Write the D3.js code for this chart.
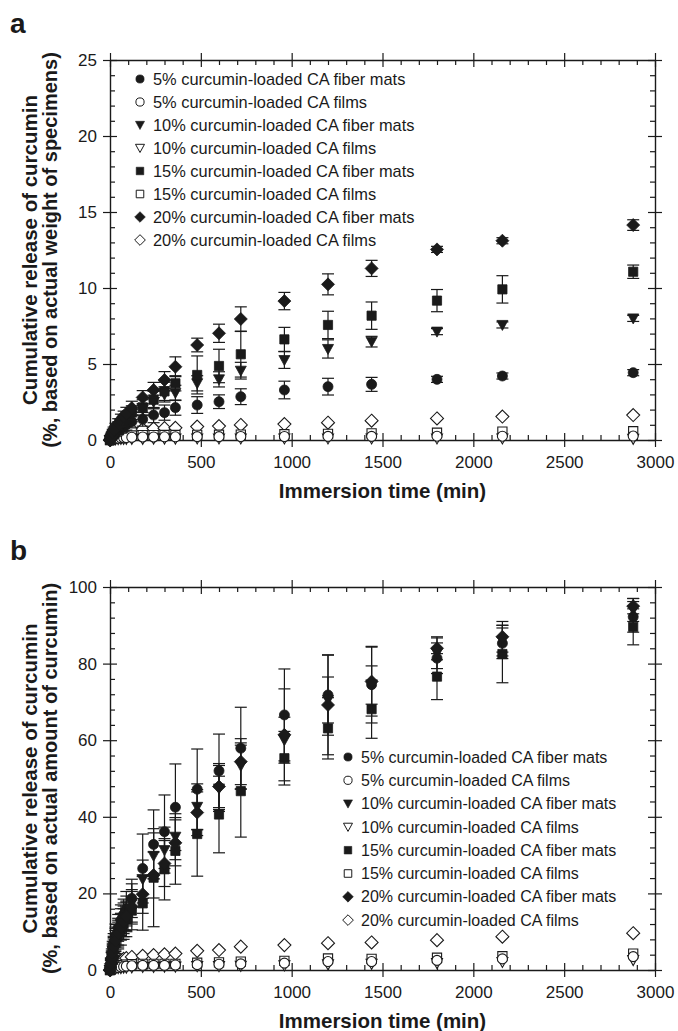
<!DOCTYPE html>
<html><head><meta charset="utf-8">
<script src="https://cdn.jsdelivr.net/npm/d3@7"></script>
<style>
body{margin:0;background:#fff;}
text{font-family:"Liberation Sans",Arial,Helvetica,sans-serif;fill:#1a1a1a;}
</style></head>
<body><svg id="chart" width="678" height="1031"></svg>
<script>
const times = [0,5,10,15,20,30,45,60,75,90,120,180,240,300,360,480,600,720,960,1200,1440,1800,2160,2880];
const seriesNames = ["5% curcumin-loaded CA fiber mats","5% curcumin-loaded CA films","10% curcumin-loaded CA fiber mats","10% curcumin-loaded CA films","15% curcumin-loaded CA fiber mats","15% curcumin-loaded CA films","20% curcumin-loaded CA fiber mats","20% curcumin-loaded CA films"];
const xTicks = [0,500,1000,1500,2000,2500,3000];
const aYTicks = [0,5,10,15,20,25];
const bYTicks = [0,20,40,60,80,100];

// Panel a (% based on actual weight of specimens)
const aFiber5  = [0,0.1,0.2,0.28,0.35,0.45,0.6,0.75,0.88,1.0,1.2,1.36,1.64,1.8,2.13,2.30,2.52,2.85,3.29,3.51,3.66,3.99,4.21,4.43];
const aFiber5Err=[0,0.1,0.15,0.15,0.2,0.2,0.25,0.3,0.3,0.35,0.4,0.45,0.5,0.5,0.5,0.55,0.45,0.52,0.58,0.55,0.46,0.2,0.2,0.2];
const aFilm5   = [0,0.03,0.05,0.07,0.08,0.1,0.12,0.14,0.15,0.16,0.18,0.2,0.2,0.21,0.21,0.22,0.22,0.23,0.23,0.24,0.24,0.25,0.25,0.26];
const aFiber10 = [0,0.12,0.25,0.35,0.45,0.6,0.8,1.0,1.15,1.3,1.6,2.0,2.5,3.0,3.1,3.73,3.99,4.56,5.26,5.99,6.47,7.13,7.57,8.0];
const aFiber10Err=[0,0.1,0.15,0.15,0.2,0.2,0.25,0.3,0.3,0.35,0.4,0.4,0.45,0.5,0.5,0.5,0.5,0.55,0.55,0.6,0.35,0.2,0.2,0.2];
const aFilm10  = [0,0.02,0.03,0.04,0.05,0.05,0.06,0.07,0.07,0.08,0.08,0.08,0.09,0.09,0.09,0.1,0.1,0.1,0.1,0.1,0.1,0.1,0.1,0.08];
const aFiber15 = [0,0.15,0.3,0.4,0.5,0.7,0.9,1.1,1.3,1.45,1.8,2.15,2.65,3.2,3.73,4.28,4.87,5.64,6.62,7.57,8.18,9.17,9.91,11.07];
const aFiber15Err=[0,0.1,0.15,0.2,0.2,0.25,0.3,0.3,0.35,0.4,0.45,0.5,0.55,0.6,0.5,1.25,1.1,1.5,0.79,0.9,0.9,0.73,0.9,0.44];
const aFilm15  = [0,0.05,0.08,0.1,0.12,0.15,0.18,0.22,0.25,0.27,0.3,0.32,0.32,0.33,0.33,0.34,0.35,0.36,0.38,0.4,0.44,0.48,0.55,0.58];
const aFiber20 = [0,0.2,0.35,0.5,0.65,0.85,1.1,1.35,1.55,1.75,2.1,2.8,3.29,3.95,4.82,6.25,7.02,7.96,9.14,10.24,11.29,12.54,13.11,14.14];
const aFiber20Err=[0,0.1,0.15,0.2,0.2,0.25,0.3,0.35,0.35,0.4,0.45,0.45,0.5,0.55,0.65,0.45,0.6,0.8,0.57,0.69,0.53,0.2,0.2,0.35];
const aFilm20  = [0,0.1,0.15,0.2,0.25,0.3,0.4,0.48,0.55,0.6,0.68,0.72,0.75,0.78,0.8,0.88,0.92,0.99,1.05,1.14,1.27,1.42,1.54,1.64];

// Panel b (% based on actual amount of curcumin)
const bFiber5  = [0,2,4,5.5,7,9,11,13,14.5,16,18.7,26.5,32.8,36.1,42.5,47.2,52.0,57.9,66.6,71.8,74.5,81.4,85.3,92.2];
const bFiber5Err=[0,1,1.5,2,2.5,3,3.5,4,4,4.5,5,9,9,9.6,11.3,10.5,9.6,10.7,12,10.5,10,4,4,4];
const bFilm5   = [0,0.2,0.3,0.4,0.5,0.6,0.7,0.8,0.9,1.0,1.1,1.2,1.2,1.2,1.3,1.4,1.5,1.6,1.8,2.2,2.2,2.5,2.9,3.5];
const bFiber10 = [0,1.8,3.5,5,6.3,8.2,10,12,13.5,14.8,17.5,23.7,29.8,31.3,34.8,42.6,47.4,53.3,60,70.5,74.4,82.7,86,94];
const bFiber10Err=[0,1,1.5,2,2.5,3,3.5,4,4,4.5,5,5,6,6,6,6,6,6,6,6,5,4,4,3];
const bFilm10  = [0,0.1,0.2,0.3,0.3,0.4,0.5,0.5,0.6,0.6,0.7,0.8,0.8,0.9,0.9,1.0,1.0,1.1,1.2,1.5,1.6,1.8,2.1,2.6];
const bFiber15 = [0,1.5,3,4.3,5.6,7.3,9,10.5,12,13.2,15.5,17.4,24.1,26.3,31.1,35.5,40.6,46.7,55.3,63.1,68.1,76.6,82.5,89.6];
const bFiber15Err=[0,1,1.5,2,2.5,3,3.5,4,4,4.5,5,7,12.8,8,8.7,11,10,12,7,8,7.6,6,7.5,4.7];
const bFilm15  = [0,0.2,0.4,0.6,0.7,0.9,1.1,1.2,1.3,1.4,1.5,1.6,1.6,1.6,1.6,1.9,2.0,2.2,2.4,3.0,2.9,3.2,3.6,4.3];
const bFiber20 = [0,1.6,3.2,4.6,6,7.8,9.5,11.3,12.7,14,16.5,19.8,24.8,27.8,33.2,41.1,47.9,54.4,61.4,69.2,75.3,84.0,87.0,95.0];
const bFiber20Err=[0,1,1.5,2,2.5,3,3.5,3.5,4,4,4.5,5,6,6,6,6,6,6,12,13,9,3,4,2];
const bFilm20  = [0,0.5,0.8,1.1,1.4,1.8,2.2,2.6,2.9,3.1,3.4,3.7,3.9,4.1,4.3,5.0,5.2,6.1,6.5,7.0,7.2,7.8,8.7,9.6];

const ink = "#1a1a1a";
const svg = d3.select("#chart");

// marker shapes: 0 circle,1 triangle down,2 square,3 diamond
function shapePath(kind, s){
  const p = d3.path();
  if(kind===0){ p.arc(0,0,5*s,0,2*Math.PI); }
  else if(kind===1){ p.moveTo(-5.5*s,-4.5*s); p.lineTo(5.5*s,-4.5*s); p.lineTo(0,5.5*s); p.closePath(); }
  else if(kind===2){ p.rect(-4.6*s,-4.6*s,9.2*s,9.2*s); }
  else { p.moveTo(0,-6.5*s); p.lineTo(6.5*s,0); p.lineTo(0,6.5*s); p.lineTo(-6.5*s,0); p.closePath(); }
  return p.toString();
}

function drawPanel(cfg){
  const g = svg.append("g");
  const x = d3.scaleLinear().domain([0,3000]).range([cfg.left,cfg.right]);
  const y = d3.scaleLinear().domain([0,cfg.ymax]).range([cfg.bottom,cfg.top]);
  const xMinor = d3.range(0,3001,100).filter(v=>v%500!==0);
  const yMinor = d3.range(0,cfg.ymax+0.001,cfg.yMinorStep).filter(v=>Math.abs(v/cfg.yMajorStep-Math.round(v/cfg.yMajorStep))>1e-6);

  const axes = g.append("g").attr("class","axes");
  function styleAxis(sel){
    sel.selectAll("path.domain").attr("stroke",ink).attr("stroke-width",1.4);
    sel.selectAll("line").attr("stroke",ink).attr("stroke-width",1.2);
  }
  const bAx = axes.append("g").attr("transform",`translate(0,${cfg.bottom})`)
    .call(d3.axisBottom(x).tickValues(xTicks).tickSize(7).tickPadding(9).tickSizeOuter(0).tickFormat(d3.format("d")));
  bAx.selectAll(".tick line").attr("y1",-7);
  bAx.selectAll("text").attr("font-size",17).style("fill",ink);
  styleAxis(bAx);
  const bMin = axes.append("g").attr("transform",`translate(0,${cfg.bottom})`)
    .call(d3.axisTop(x).tickValues(xMinor).tickSize(5).tickFormat("").tickSizeOuter(0));
  bMin.select(".domain").remove(); styleAxis(bMin);
  const tAx = axes.append("g").attr("transform",`translate(0,${cfg.top})`)
    .call(d3.axisTop(x).tickValues(xTicks).tickSize(7).tickFormat("").tickSizeOuter(0));
  tAx.selectAll(".tick line").attr("y1",7);
  styleAxis(tAx);
  const tMin = axes.append("g").attr("transform",`translate(0,${cfg.top})`)
    .call(d3.axisBottom(x).tickValues(xMinor).tickSize(5).tickFormat("").tickSizeOuter(0));
  tMin.select(".domain").remove(); styleAxis(tMin);
  const lAx = axes.append("g").attr("transform",`translate(${cfg.left},0)`)
    .call(d3.axisLeft(y).tickValues(cfg.yTicks).tickSize(7).tickPadding(6).tickSizeOuter(0).tickFormat(d3.format("d")));
  lAx.selectAll(".tick line").attr("x1",7);
  lAx.selectAll("text").attr("font-size",17).style("fill",ink);
  styleAxis(lAx);
  const lMin = axes.append("g").attr("transform",`translate(${cfg.left},0)`)
    .call(d3.axisRight(y).tickValues(yMinor).tickSize(5).tickFormat("").tickSizeOuter(0));
  lMin.select(".domain").remove(); styleAxis(lMin);
  const rAx = axes.append("g").attr("transform",`translate(${cfg.right},0)`)
    .call(d3.axisRight(y).tickValues(cfg.yTicks).tickSize(7).tickFormat("").tickSizeOuter(0));
  rAx.selectAll(".tick line").attr("x1",-7);
  styleAxis(rAx);
  const rMin = axes.append("g").attr("transform",`translate(${cfg.right},0)`)
    .call(d3.axisLeft(y).tickValues(yMinor).tickSize(5).tickFormat("").tickSizeOuter(0));
  rMin.select(".domain").remove(); styleAxis(rMin);

  const order = [7,5,3,1,0,2,4,6];
  const kinds = [0,0,1,1,2,2,3,3];
  const marks = g.append("g");
  order.forEach(i=>{
    const vals = cfg.series[i], errs = cfg.errs[i];
    const pts = times.map((t,j)=>({t, v: vals[j], e: errs ? errs[j] : 0}));
    const sg = marks.append("g");
    if(errs){
      const eb = sg.selectAll("g.eb").data(pts.filter(d=>d.e>0)).join("g").attr("class","eb");
      eb.append("line").attr("x1",d=>x(d.t)).attr("x2",d=>x(d.t))
        .attr("y1",d=>y(d.v-d.e)).attr("y2",d=>y(d.v+d.e)).attr("stroke",ink).attr("stroke-width",1.2);
      [1,-1].forEach(sgn=>{
        eb.append("line").attr("x1",d=>x(d.t)-6).attr("x2",d=>x(d.t)+6)
          .attr("y1",d=>y(d.v+sgn*d.e)).attr("y2",d=>y(d.v+sgn*d.e)).attr("stroke",ink).attr("stroke-width",1.2);
      });
    }
    const open = i%2===1;
    sg.selectAll("path.m").data(pts).join("path").attr("class","m")
      .attr("transform",d=>`translate(${x(d.t)},${y(d.v)})`)
      .attr("d",shapePath(kinds[i],1))
      .attr("fill",open?"#fff":ink).attr("stroke",ink).attr("stroke-width",open?1.1:0.8);
  });

  const lg = g.append("g");
  seriesNames.forEach((name,i)=>{
    const yy = cfg.legY + i*cfg.legStep;
    const open = i%2===1;
    lg.append("path").attr("transform",`translate(${cfg.legX},${yy})`)
      .attr("d",shapePath(kinds[i],0.82))
      .attr("fill",open?"#fff":ink).attr("stroke",ink).attr("stroke-width",open?1:0.6);
    lg.append("text").attr("x",cfg.legX+13).attr("y",yy).attr("dy","0.35em")
      .attr("font-size",cfg.legFont).text(name);
  });

  g.append("text").attr("x",(cfg.left+cfg.right)/2).attr("y",cfg.bottom+58)
    .attr("text-anchor","middle").attr("font-size",20.5).attr("font-weight","bold")
    .text("Immersion time (min)");
  const cy = (cfg.top+cfg.bottom)/2;
  g.append("text").attr("transform",`translate(37,${cy}) rotate(-90)`)
    .attr("text-anchor","middle").attr("font-size",20.5).attr("font-weight","bold")
    .text("Cumulative release of curcumin");
  g.append("text").attr("transform",`translate(57,${cy}) rotate(-90)`)
    .attr("text-anchor","middle").attr("font-size",20).attr("font-weight","bold")
    .text(cfg.ylabel2);
  g.append("text").attr("x",10).attr("y",cfg.top-27).attr("font-size",28).attr("font-weight","bold").text(cfg.letter);
}

drawPanel({
  left:110,right:655,top:60,bottom:440,ymax:25,yTicks:aYTicks,yMajorStep:5,yMinorStep:1,
  series:[aFiber5,aFilm5,aFiber10,aFilm10,aFiber15,aFilm15,aFiber20,aFilm20],
  errs:[aFiber5Err,null,aFiber10Err,null,aFiber15Err,null,aFiber20Err,null],
  legX:140,legY:79,legStep:23,legFont:16.4,letter:"a",
  ylabel2:"(%, based on actual weight of specimens)"
});
drawPanel({
  left:110,right:655,top:587,bottom:970,ymax:100,yTicks:bYTicks,yMajorStep:20,yMinorStep:4,
  series:[bFiber5,bFilm5,bFiber10,bFilm10,bFiber15,bFilm15,bFiber20,bFilm20],
  errs:[bFiber5Err,null,bFiber10Err,null,bFiber15Err,null,bFiber20Err,null],
  legX:348,legY:757,legStep:23.3,legFont:16,letter:"b",
  ylabel2:"(%, based on actual amount of curcumin)"
});
</script></body></html>
